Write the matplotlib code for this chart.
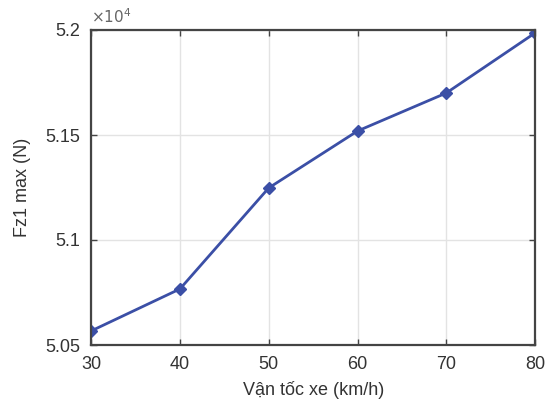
import matplotlib.pyplot as plt
from matplotlib.ticker import FuncFormatter

van_toc = [30, 40, 50, 60, 70, 80]
fz1_max = [50567, 50767, 51248, 51519, 51700, 51986]
y_ticks = [50500, 51000, 51500, 52000]

plt.rcParams['font.family'] = ['Liberation Sans', 'DejaVu Sans']

fig = plt.figure(figsize=(5.46, 4.0), dpi=100)
ax = fig.add_axes([0.167, 0.1375, 0.813, 0.7875])

ax.plot(van_toc, fz1_max, color='#3b4fa6', linewidth=2, marker='D',
        markersize=6.5, markerfacecolor='#3b4fa6', markeredgecolor='#3b4fa6')

ax.set_xlim(30, 80)
ax.set_ylim(50500, 52000)
ax.set_xticks(van_toc)
ax.set_yticks(y_ticks)
ax.yaxis.set_major_formatter(FuncFormatter(lambda v, p: '%g' % (v / 1e4)))
ax.text(0.0, 1.012, r'$\times10^{4}$', transform=ax.transAxes, fontsize=11,
        color='#666666', ha='left', va='bottom')

ax.grid(True, color='#e3e3e3', linewidth=1)
ax.set_axisbelow(True)
for s in ax.spines.values():
    s.set_color('#444444')
    s.set_linewidth(1.6)
ax.tick_params(direction='in', length=4, width=1, colors='#444444',
               labelsize=13, labelcolor='#333333', top=True, right=True, pad=8)

ax.set_xlabel('Vận tốc xe (km/h)', fontsize=13, color='#333333', labelpad=6)
ax.set_ylabel('Fz1 max (N)', fontsize=13, color='#333333', labelpad=10)

fig.savefig('out.png', dpi=100)
